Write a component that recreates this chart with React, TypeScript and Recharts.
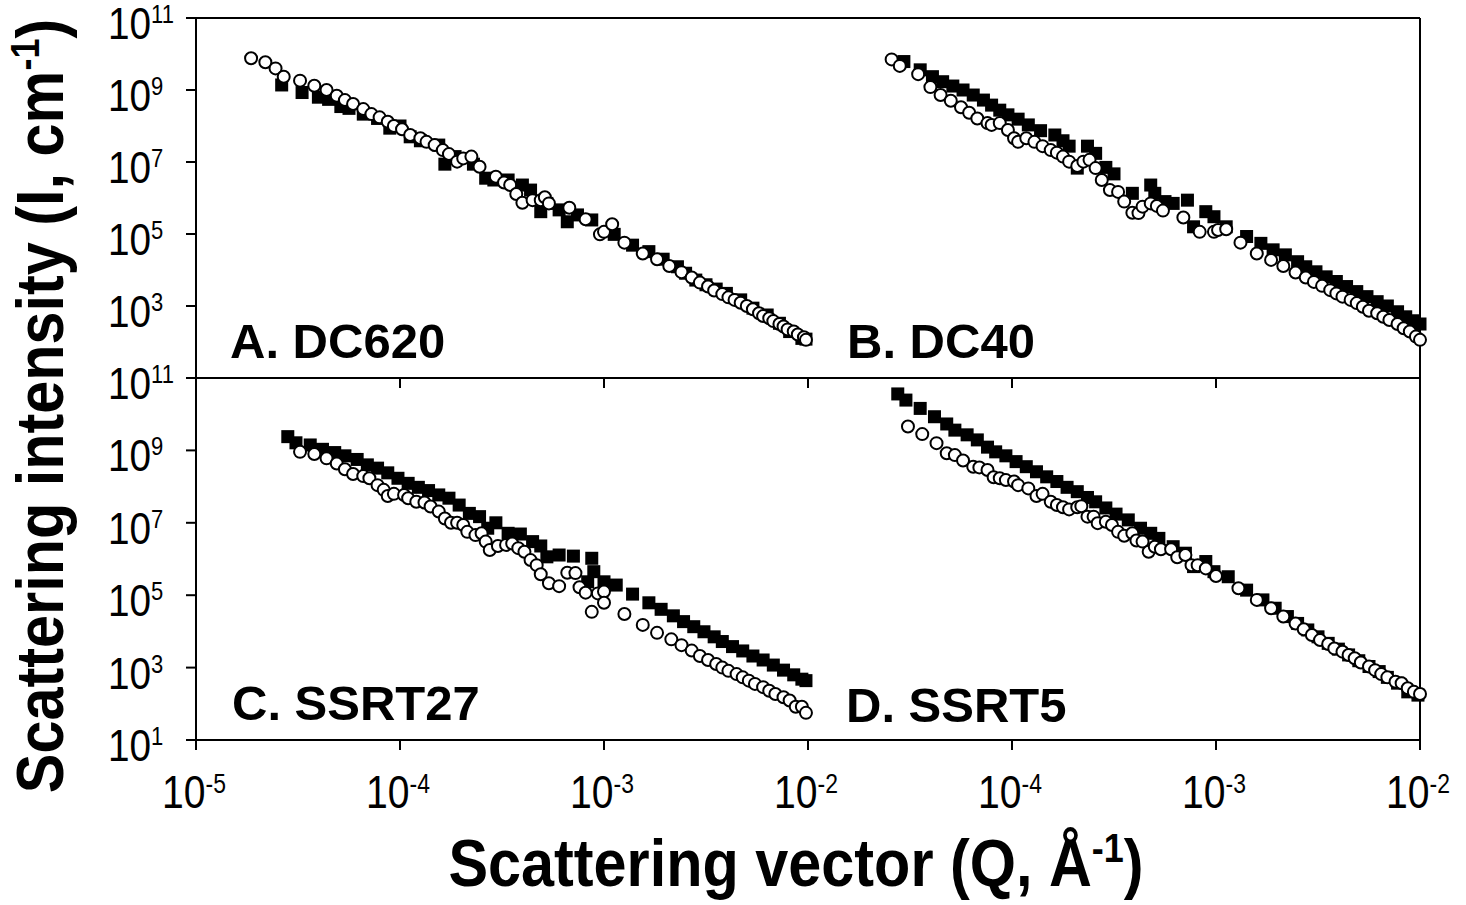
import React from 'react';
import { ReferenceLine, Scatter, ScatterChart, XAxis, YAxis } from 'recharts';

// Values, stored as [log10 Q (1/Å), log10 I (1/cm)].
type Pair = [number, number];

const panelLabels = ['A. DC620', 'B. DC40', 'C. SSRT27', 'D. SSRT5'];
const qTicks = [1e-5, 1e-4, 1e-3, 1e-2];
const iTicks = [1e1, 1e3, 1e5, 1e7, 1e9, 1e11];

// A. DC620
const dc620Open: Pair[] = [
  [-4.73, 9.88], [-4.66, 9.77], [-4.61, 9.6], [-4.57, 9.37], [-4.49, 9.26], [-4.42, 9.12],
  [-4.36, 9.0], [-4.31, 8.84], [-4.27, 8.72], [-4.23, 8.61], [-4.18, 8.47], [-4.14, 8.33],
  [-4.1, 8.24], [-4.06, 8.12], [-4.03, 8.0], [-3.99, 7.91], [-3.95, 7.75], [-3.9, 7.66],
  [-3.87, 7.56], [-3.83, 7.47], [-3.79, 7.33], [-3.76, 7.22], [-3.72, 7.01], [-3.69, 7.1],
  [-3.65, 7.15], [-3.61, 6.87], [-3.53, 6.59], [-3.49, 6.43], [-3.46, 6.36], [-3.43, 6.11],
  [-3.4, 5.87], [-3.35, 5.94], [-3.31, 5.94], [-3.29, 6.02], [-3.27, 5.85], [-3.17, 5.73],
  [-3.09, 5.41], [-3.02, 4.99], [-3.0, 5.06], [-2.96, 5.27], [-2.9, 4.76], [-2.81, 4.46],
  [-2.74, 4.3], [-2.68, 4.11], [-2.62, 3.94], [-2.57, 3.79], [-2.53, 3.65], [-2.49, 3.54],
  [-2.46, 3.43], [-2.42, 3.33], [-2.39, 3.24], [-2.36, 3.17], [-2.33, 3.09], [-2.3, 3.0],
  [-2.27, 2.91], [-2.24, 2.8], [-2.22, 2.72], [-2.19, 2.66], [-2.17, 2.58], [-2.14, 2.5],
  [-2.12, 2.43], [-2.1, 2.35], [-2.07, 2.29], [-2.05, 2.21], [-2.02, 2.13], [-2.01, 2.06],
];
const dc620Filled: Pair[] = [
  [-4.58, 9.14], [-4.48, 8.93], [-4.4, 8.8], [-4.35, 8.74], [-4.29, 8.54], [-4.25, 8.49],
  [-4.18, 8.33], [-4.11, 8.21], [-4.05, 7.94], [-4.0, 8.0], [-3.95, 7.7], [-3.9, 7.59],
  [-3.81, 7.47], [-3.78, 6.94], [-3.73, 7.15], [-3.64, 6.94], [-3.58, 6.55], [-3.54, 6.5],
  [-3.47, 6.5], [-3.4, 6.36], [-3.36, 6.22], [-3.31, 5.62], [-3.28, 5.85], [-3.22, 5.67],
  [-3.18, 5.34], [-3.13, 5.53], [-3.06, 5.39], [-2.95, 4.99], [-2.86, 4.69], [-2.78, 4.51],
  [-2.71, 4.3], [-2.64, 4.09], [-2.6, 3.91], [-2.55, 3.72], [-2.5, 3.59], [-2.45, 3.47],
  [-2.4, 3.35], [-2.33, 3.17], [-2.27, 2.94], [-2.2, 2.75], [-2.14, 2.52], [-2.09, 2.29],
  [-2.03, 2.1], [-2.01, 2.08],
];

// B. DC40
const dc40Open: Pair[] = [
  [-4.59, 9.85], [-4.55, 9.67], [-4.46, 9.44], [-4.4, 9.08], [-4.35, 8.86], [-4.3, 8.7],
  [-4.25, 8.52], [-4.21, 8.37], [-4.17, 8.21], [-4.12, 8.08], [-4.1, 8.03], [-4.06, 8.08],
  [-4.02, 7.89], [-3.99, 7.66], [-3.97, 7.56], [-3.93, 7.66], [-3.89, 7.56], [-3.85, 7.44],
  [-3.81, 7.33], [-3.78, 7.26], [-3.75, 7.15], [-3.72, 7.01], [-3.68, 6.89], [-3.65, 7.01],
  [-3.62, 7.06], [-3.59, 6.83], [-3.56, 6.5], [-3.52, 6.22], [-3.48, 6.17], [-3.45, 5.9],
  [-3.41, 5.59], [-3.38, 5.58], [-3.36, 5.76], [-3.32, 5.85], [-3.29, 5.78], [-3.26, 5.65],
  [-3.16, 5.46], [-3.08, 5.06], [-3.01, 5.06], [-2.99, 5.11], [-2.95, 5.13], [-2.88, 4.76],
  [-2.8, 4.46], [-2.73, 4.28], [-2.67, 4.11], [-2.61, 3.93], [-2.56, 3.79], [-2.52, 3.67],
  [-2.48, 3.56], [-2.44, 3.44], [-2.41, 3.35], [-2.38, 3.26], [-2.34, 3.17], [-2.31, 3.08],
  [-2.28, 2.98], [-2.25, 2.87], [-2.21, 2.8], [-2.18, 2.7], [-2.15, 2.61], [-2.11, 2.5],
  [-2.08, 2.38], [-2.05, 2.29], [-2.02, 2.15], [-2.0, 2.06],
];
const dc40Filled: Pair[] = [
  [-4.53, 9.79], [-4.45, 9.56], [-4.39, 9.37], [-4.34, 9.23], [-4.29, 9.11], [-4.24, 9.0],
  [-4.19, 8.86], [-4.14, 8.72], [-4.1, 8.58], [-4.06, 8.44], [-4.02, 8.31], [-3.97, 8.19],
  [-3.92, 8.03], [-3.86, 7.87], [-3.79, 7.75], [-3.75, 7.59], [-3.72, 7.44], [-3.68, 6.83],
  [-3.63, 7.44], [-3.59, 7.24], [-3.54, 6.85], [-3.5, 6.67], [-3.41, 6.13], [-3.32, 6.36],
  [-3.3, 6.13], [-3.25, 5.9], [-3.21, 5.85], [-3.14, 5.94], [-3.11, 5.2], [-3.05, 5.62],
  [-3.01, 5.48], [-2.95, 5.2], [-2.85, 4.93], [-2.78, 4.74], [-2.72, 4.56], [-2.66, 4.42],
  [-2.6, 4.23], [-2.56, 4.09], [-2.51, 3.95], [-2.46, 3.81], [-2.41, 3.68], [-2.36, 3.54],
  [-2.31, 3.4], [-2.26, 3.26], [-2.21, 3.12], [-2.16, 3.0], [-2.11, 2.84], [-2.07, 2.7],
  [-2.03, 2.59], [-2.0, 2.5],
];

// C. SSRT27
const ssrt27Open: Pair[] = [
  [-4.49, 8.96], [-4.42, 8.9], [-4.36, 8.78], [-4.31, 8.64], [-4.27, 8.48], [-4.23, 8.35],
  [-4.18, 8.29], [-4.15, 8.23], [-4.11, 8.04], [-4.08, 7.91], [-4.06, 7.74], [-4.03, 7.8],
  [-3.98, 7.77], [-3.96, 7.68], [-3.92, 7.58], [-3.88, 7.56], [-3.85, 7.45], [-3.81, 7.31],
  [-3.78, 7.12], [-3.75, 7.0], [-3.72, 7.0], [-3.69, 6.94], [-3.67, 6.75], [-3.63, 6.66],
  [-3.6, 6.71], [-3.58, 6.48], [-3.56, 6.25], [-3.52, 6.36], [-3.48, 6.39], [-3.45, 6.43],
  [-3.42, 6.3], [-3.39, 6.2], [-3.36, 5.97], [-3.33, 5.83], [-3.31, 5.58], [-3.27, 5.33],
  [-3.22, 5.25], [-3.18, 5.62], [-3.14, 5.61], [-3.12, 5.22], [-3.09, 5.07], [-3.06, 4.54],
  [-3.03, 5.05], [-3.0, 5.1], [-3.0, 4.79], [-2.9, 4.48], [-2.81, 4.18], [-2.74, 3.96],
  [-2.67, 3.78], [-2.62, 3.62], [-2.57, 3.47], [-2.53, 3.32], [-2.49, 3.21], [-2.45, 3.1],
  [-2.42, 3.0], [-2.39, 2.91], [-2.35, 2.82], [-2.32, 2.73], [-2.29, 2.64], [-2.26, 2.55],
  [-2.22, 2.46], [-2.19, 2.36], [-2.16, 2.27], [-2.12, 2.18], [-2.09, 2.09], [-2.06, 1.92],
  [-2.03, 1.92], [-2.01, 1.75],
];
const ssrt27Filled: Pair[] = [
  [-4.55, 9.38], [-4.51, 9.21], [-4.44, 9.15], [-4.38, 9.03], [-4.32, 8.94], [-4.27, 8.85],
  [-4.21, 8.75], [-4.16, 8.6], [-4.11, 8.51], [-4.06, 8.38], [-4.01, 8.23], [-3.96, 8.09],
  [-3.91, 7.98], [-3.86, 7.89], [-3.81, 7.77], [-3.76, 7.68], [-3.71, 7.49], [-3.66, 7.26],
  [-3.61, 7.17], [-3.57, 6.85], [-3.53, 7.0], [-3.47, 6.71], [-3.41, 6.69], [-3.35, 6.48],
  [-3.31, 6.36], [-3.28, 6.06], [-3.22, 6.11], [-3.15, 6.08], [-3.06, 6.02], [-3.05, 5.65],
  [-3.08, 5.37], [-3.0, 5.37], [-2.94, 5.28], [-2.86, 5.03], [-2.78, 4.79], [-2.72, 4.61],
  [-2.66, 4.43], [-2.61, 4.27], [-2.56, 4.13], [-2.51, 3.99], [-2.46, 3.85], [-2.42, 3.72],
  [-2.37, 3.58], [-2.32, 3.46], [-2.27, 3.32], [-2.22, 3.21], [-2.17, 3.07], [-2.12, 2.93],
  [-2.07, 2.8], [-2.03, 2.68], [-2.01, 2.64],
];

// D. SSRT5
const ssrt5Open: Pair[] = [
  [-4.51, 9.66], [-4.44, 9.45], [-4.37, 9.2], [-4.32, 8.92], [-4.28, 8.87], [-4.24, 8.72],
  [-4.19, 8.55], [-4.16, 8.53], [-4.12, 8.46], [-4.09, 8.26], [-4.06, 8.23], [-4.03, 8.18],
  [-3.99, 8.14], [-3.97, 8.04], [-3.92, 7.95], [-3.88, 7.74], [-3.85, 7.8], [-3.81, 7.58],
  [-3.78, 7.49], [-3.75, 7.43], [-3.72, 7.37], [-3.68, 7.43], [-3.66, 7.46], [-3.63, 7.17],
  [-3.6, 7.17], [-3.58, 6.99], [-3.54, 7.03], [-3.51, 6.94], [-3.48, 6.75], [-3.45, 6.64],
  [-3.41, 6.71], [-3.39, 6.51], [-3.36, 6.48], [-3.33, 6.2], [-3.3, 6.34], [-3.27, 6.27],
  [-3.22, 6.27], [-3.19, 6.05], [-3.15, 6.11], [-3.12, 5.83], [-3.09, 5.83], [-3.05, 5.74],
  [-3.0, 5.53], [-2.89, 5.19], [-2.8, 4.87], [-2.73, 4.64], [-2.67, 4.41], [-2.61, 4.22],
  [-2.57, 4.06], [-2.53, 3.9], [-2.49, 3.76], [-2.45, 3.65], [-2.42, 3.53], [-2.38, 3.44],
  [-2.35, 3.35], [-2.32, 3.26], [-2.29, 3.14], [-2.25, 3.03], [-2.22, 2.93], [-2.19, 2.82],
  [-2.16, 2.73], [-2.12, 2.61], [-2.09, 2.57], [-2.06, 2.43], [-2.03, 2.33], [-2.0, 2.27],
];
const ssrt5Filled: Pair[] = [
  [-4.56, 10.56], [-4.52, 10.39], [-4.45, 10.16], [-4.38, 9.93], [-4.32, 9.73], [-4.28, 9.56],
  [-4.22, 9.43], [-4.17, 9.29], [-4.12, 9.09], [-4.08, 8.96], [-4.03, 8.85], [-3.98, 8.69],
  [-3.93, 8.55], [-3.88, 8.41], [-3.83, 8.27], [-3.78, 8.14], [-3.73, 7.98], [-3.68, 7.86],
  [-3.63, 7.7], [-3.59, 7.58], [-3.54, 7.41], [-3.49, 7.24], [-3.43, 7.08], [-3.37, 6.85],
  [-3.32, 6.71], [-3.28, 6.57], [-3.21, 6.34], [-3.15, 6.16], [-3.11, 5.79], [-3.05, 5.93],
  [-3.01, 5.65], [-2.94, 5.51], [-2.85, 5.14], [-2.77, 4.87], [-2.71, 4.64], [-2.65, 4.41],
  [-2.6, 4.22], [-2.55, 4.04], [-2.5, 3.85], [-2.45, 3.67], [-2.4, 3.51], [-2.35, 3.35],
  [-2.3, 3.19], [-2.25, 3.03], [-2.2, 2.89], [-2.16, 2.73], [-2.11, 2.57], [-2.06, 2.33],
  [-2.01, 2.24],
];

const W = 1466;
const H = 905;
const INK = '#000';
const FONT = '"Liberation Sans", Arial, Helvetica, sans-serif';
const axisStroke = { stroke: INK, strokeWidth: 2 };

const toRows = (pts: Pair[]) => pts.map(([lq, li]) => ({ q: 10 ** lq, i: 10 ** li }));

const NoTick = () => <g />;

const YTick = (props: any) => {
  const { x, y, payload } = props;
  const exp = Math.round(Math.log10(payload.value));
  return (
    <g transform={`translate(${x - 72},${y + 21}) scale(0.88,1)`}>
      <text x={0} y={0} fontFamily={FONT} fontSize={44} fill={INK}>
        10
        <tspan dy={-16} fontSize={25}>
          {exp}
        </tspan>
      </text>
    </g>
  );
};

const XTick = (props: any) => {
  const { x, y, payload } = props;
  const exp = Math.round(Math.log10(payload.value));
  return (
    <g transform={`translate(${x - 2},${y + 58}) scale(0.85,1)`}>
      <text x={0} y={0} textAnchor='middle' fontFamily={FONT} fontSize={46} fill={INK}>
        10
        <tspan dy={-15} fontSize={27}>
          {exp}
        </tspan>
      </text>
    </g>
  );
};

const Ring = (p: any) => (
  <circle cx={p.cx} cy={p.cy} r={6} fill='#fff' stroke={INK} strokeWidth={2} />
);
const Block = (p: any) => (
  <rect x={p.cx - 6.5} y={p.cy - 6.5} width={13} height={13} fill={INK} />
);

// plot frame edges in page pixels
const colEdges = [
  [196, 808],
  [808, 1420],
];
const rowEdges = [
  [18, 378],
  [378, 740],
];
const labelSpots = [
  [230, 358],
  [847, 358],
  [232, 720],
  [846, 722],
];

type PanelProps = { circles: Pair[]; squares: Pair[]; col: number; row: number };

function Panel({ circles, squares, col, row }: PanelProps) {
  const [left, right] = colEdges[col];
  const [top, bottom] = rowEdges[row];
  const yW = col === 0 ? 80 : 0;
  const xH = row === 0 ? 10 : 80;
  const margin = { left: left - yW, right: W - right, top, bottom: H - bottom - xH };
  return (
    <div style={{ position: 'absolute', left: 0, top: 0 }}>
      <ScatterChart width={W} height={H} margin={margin}>
        <XAxis
          type='number'
          dataKey='q'
          scale='log'
          domain={[1e-5, 1e-2]}
          ticks={col === 0 ? qTicks : qTicks.slice(1)}
          interval={0}
          height={xH}
          tickSize={10}
          tickMargin={0}
          axisLine={axisStroke}
          tickLine={axisStroke}
          tick={row === 1 ? XTick : NoTick}
        />
        <YAxis
          type='number'
          dataKey='i'
          scale='log'
          domain={[10, 1e11]}
          ticks={row === 0 ? iTicks.slice(1) : iTicks}
          interval={0}
          width={yW}
          mirror={col === 1}
          tickSize={10}
          tickMargin={6}
          axisLine={axisStroke}
          tickLine={axisStroke}
          tick={col === 0 ? YTick : NoTick}
        />
        {row === 0 && <ReferenceLine y={1e11} stroke={INK} strokeWidth={2} />}
        {col === 1 && <ReferenceLine x={1e-2} stroke={INK} strokeWidth={2} />}
        <Scatter data={toRows(squares)} shape={Block} isAnimationActive={false} />
        <Scatter data={toRows(circles)} shape={Ring} isAnimationActive={false} />
      </ScatterChart>
    </div>
  );
}

export default function App() {
  const panels = [
    { circles: dc620Open, squares: dc620Filled, col: 0, row: 0 },
    { circles: dc40Open, squares: dc40Filled, col: 1, row: 0 },
    { circles: ssrt27Open, squares: ssrt27Filled, col: 0, row: 1 },
    { circles: ssrt5Open, squares: ssrt5Filled, col: 1, row: 1 },
  ];
  return (
    <div
      style={{
        position: 'absolute',
        left: 0,
        top: 0,
        width: W,
        height: H,
        background: '#fff',
        overflow: 'hidden',
      }}
    >
      {panels.map((p, k) => (
        <Panel key={k} {...p} />
      ))}
      <svg
        width={W}
        height={H}
        style={{ position: 'absolute', left: 0, top: 0, pointerEvents: 'none' }}
      >
        {panelLabels.map((txt, k) => (
          <text
            key={txt}
            x={labelSpots[k][0]}
            y={labelSpots[k][1]}
            fontFamily={FONT}
            fontWeight={700}
            fontSize={49}
            fill={INK}
          >
            {txt}
          </text>
        ))}
        <g transform='translate(796,886) scale(0.9,1)'>
          <text textAnchor='middle' fontFamily={FONT} fontWeight={700} fontSize={66} fill={INK}>
            Scattering vector (Q, Å
            <tspan dy={-24} fontSize={40}>
              -1
            </tspan>
            <tspan dy={24}>)</tspan>
          </text>
        </g>
        <g transform='translate(63,406) rotate(-90) scale(0.9,1)'>
          <text textAnchor='middle' fontFamily={FONT} fontWeight={700} fontSize={66} fill={INK}>
            Scattering intensity (I, cm
            <tspan dy={-24} fontSize={40}>
              -1
            </tspan>
            <tspan dy={24}>)</tspan>
          </text>
        </g>
      </svg>
    </div>
  );
}
